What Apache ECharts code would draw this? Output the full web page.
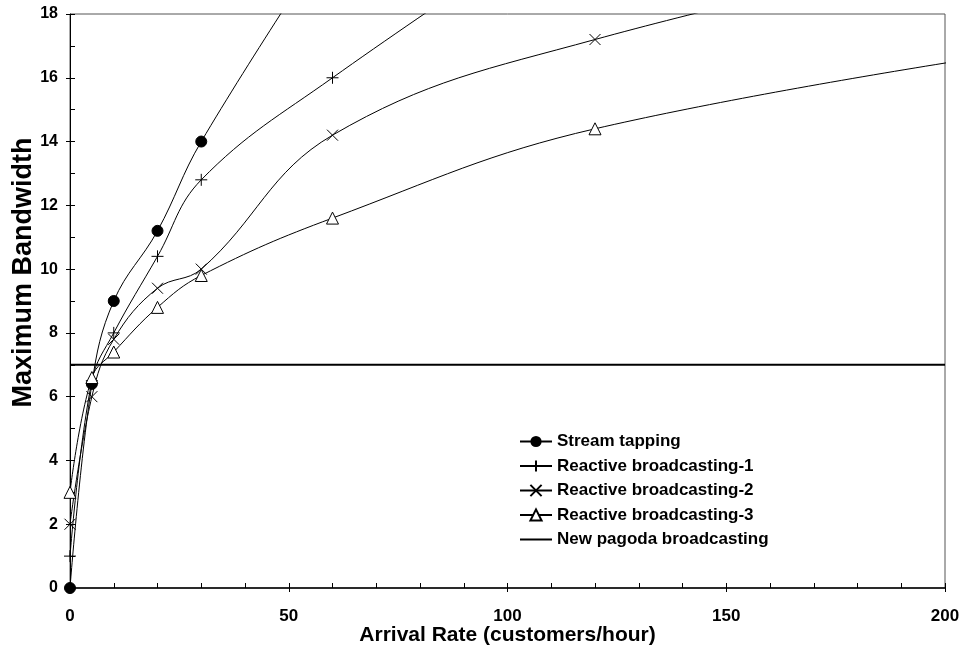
<!DOCTYPE html>
<html>
<head>
<meta charset="utf-8">
<script src="https://cdn.jsdelivr.net/npm/echarts@6/dist/echarts.min.js"></script>
<style>html,body{margin:0;padding:0;background:#fff}#c{width:959px;height:649px}</style>
</head>
<body>
<div id="c"></div>
<script>
// Data (points beyond the axis ranges are clipped by the plot, as in the original)
const xStream = [0, 5, 10, 20, 30, 60];
const yStream = [0, 6.4, 9.0, 11.2, 14.0, 20.5];
const xRB1 = [0, 5, 10, 20, 30, 60, 120];
const yRB1 = [1, 6.5, 8.0, 10.4, 12.8, 16.0, 21.6];
const xRB2 = [0, 5, 10, 20, 30, 60, 120, 240];
const yRB2 = [2, 6.0, 7.8, 9.4, 10.0, 14.2, 17.2, 21.0];
const xRB3 = [0, 5, 10, 20, 30, 60, 120, 240];
const yRB3 = [3, 6.6, 7.4, 8.8, 9.8, 11.6, 14.4, 17.3];
const xPagoda = [0, 200];
const yPagoda = [7, 7];
const seriesNames = ['Stream tapping', 'Reactive broadcasting-1', 'Reactive broadcasting-2', 'Reactive broadcasting-3', 'New pagoda broadcasting'];
const xTitle = 'Arrival Rate (customers/hour)';
const yTitle = 'Maximum Bandwidth';

const pairs = (xs, ys) => xs.map((x, i) => [x, ys[i]]);
const FONT = '"Liberation Sans", Arial, sans-serif';
const plusPath = 'path://M0,5 L10,5 M5,0 L5,10';
const crossPath = 'path://M0,0 L10,10 M10,0 L0,10';

const lineBase = {
  type: 'line', smooth: 0.4, clip: true, animation: false,
  lineStyle: { color: '#000', width: 1 },
  emphasis: { disabled: true }
};

const chart = echarts.init(document.getElementById('c'), null, { renderer: 'canvas' });
chart.setOption({
  backgroundColor: '#fff',
  animation: false,
  grid: { left: 70, right: 14, top: 14, bottom: 61, containLabel: false, outerBoundsMode: 'none',
          show: true, borderColor: '#555', borderWidth: 1 },
  legend: {
    orient: 'vertical', left: 514, top: 428, itemWidth: 32, itemHeight: 14, itemGap: 7.5,
    textStyle: { fontFamily: FONT, fontWeight: 'bold', fontSize: 17, lineHeight: 17, color: '#000' },
    data: seriesNames.slice(0, 4).concat([{
      name: seriesNames[4],
      itemStyle: { color: 'rgba(0,0,0,0)', borderColor: 'rgba(0,0,0,0)', borderWidth: 0 }
    }])
  },
  xAxis: [{
    type: 'value', min: 0, max: 200, interval: 50, position: 'bottom',
    axisLine: { onZero: false, lineStyle: { color: '#000', width: 1.5 } },
    axisTick: { inside: true, length: 5, lineStyle: { color: '#000' } },
    minorTick: { show: true, splitNumber: 5, length: 5, lineStyle: { color: '#000' } },
    splitLine: { show: false },
    axisLabel: { margin: 20, fontFamily: FONT, fontWeight: 'bold', fontSize: 17, color: '#000' },
    name: xTitle, nameLocation: 'middle', nameGap: 37, nameMoveOverlap: false,
    nameTextStyle: { fontFamily: FONT, fontWeight: 'bold', fontSize: 21, color: '#000' }
  }, {
    type: 'value', min: 0, max: 200, interval: 50, position: 'bottom',
    axisLine: { show: false }, axisTick: { show: true, inside: false, length: 4, lineStyle: { color: '#000' } },
    axisLabel: { show: false }, splitLine: { show: false }
  }],
  yAxis: [{
    type: 'value', min: 0, max: 18, interval: 2,
    axisLine: { onZero: false, show: true, lineStyle: { color: '#000', width: 1 } },
    axisTick: { show: true, inside: true, length: 5, lineStyle: { color: '#000' } },
    minorTick: { show: true, splitNumber: 2, length: 5, lineStyle: { color: '#000' } },
    splitLine: { show: false },
    axisLabel: { margin: 12, fontFamily: FONT, fontWeight: 'bold', fontSize: 16, color: '#000' },
    name: yTitle, nameLocation: 'middle', nameGap: 33, nameRotate: 90, nameMoveOverlap: false,
    nameTextStyle: { fontFamily: FONT, fontWeight: 'bold', fontSize: 27, color: '#000', padding: [0, 0, 0, 57] }
  }, {
    type: 'value', min: 0, max: 18, interval: 2, position: 'left',
    axisLine: { show: false }, axisTick: { show: true, inside: false, length: 4, lineStyle: { color: '#000' } },
    axisLabel: { show: false }, splitLine: { show: false }
  }],
  series: [
    Object.assign({}, lineBase, {
      name: seriesNames[0], data: pairs(xStream, yStream),
      symbol: 'circle', symbolSize: 11, itemStyle: { color: '#000', borderColor: '#000' }
    }),
    Object.assign({}, lineBase, {
      name: seriesNames[1], data: pairs(xRB1, yRB1),
      symbol: plusPath, symbolSize: 12, itemStyle: { color: 'rgba(0,0,0,0)', borderColor: '#000', borderWidth: 1 }
    }),
    Object.assign({}, lineBase, {
      name: seriesNames[2], data: pairs(xRB2, yRB2),
      symbol: crossPath, symbolSize: 11, itemStyle: { color: 'rgba(0,0,0,0)', borderColor: '#000', borderWidth: 1 }
    }),
    Object.assign({}, lineBase, {
      name: seriesNames[3], data: pairs(xRB3, yRB3),
      symbol: 'triangle', symbolSize: 12, itemStyle: { color: '#fff', borderColor: '#000', borderWidth: 1 }
    }),
    Object.assign({}, lineBase, {
      name: seriesNames[4], data: pairs(xPagoda, yPagoda), smooth: false,
      symbol: 'none', showSymbol: false, lineStyle: { color: '#000', width: 2 }, itemStyle: { color: '#000' }
    })
  ]
});
</script>
</body>
</html>
